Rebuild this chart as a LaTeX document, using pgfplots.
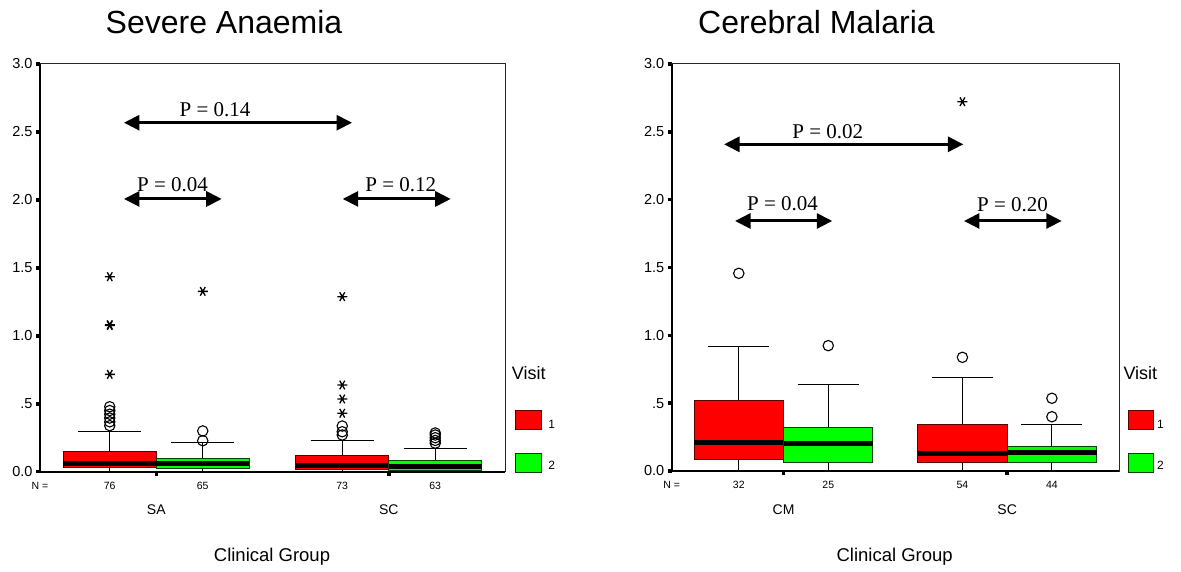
\documentclass[border=0pt]{standalone}
\usepackage{pgfplots}
\pgfplotsset{compat=1.18}
\usepgfplotslibrary{statistics}
\usetikzlibrary{arrows.meta}
\usepackage{fontspec}
\setmainfont{Liberation Sans}
\newfontfamily\pserif{Liberation Serif}
\definecolor{boxred}{RGB}{255,0,0}
\definecolor{boxgreen}{RGB}{0,255,0}
\definecolor{edgered}{RGB}{90,0,0}
\definecolor{edgegreen}{RGB}{0,70,0}
\pgfplotsset{
  panel/.style={
    scale only axis, clip=false,
    xmin=0.25, xmax=5.25, ymin=0, ymax=3,
    axis line style={line width=1pt, black!85},
    ytick={0,0.5,1,1.5,2,2.5,3},
    yticklabels={0.0,.5,1.0,1.5,2.0,2.5,3.0},
    xtick={1.5,4}, xticklabels={},
    xtick pos=bottom, ytick pos=left,
    tick align=outside, major tick length=4pt,
    every tick/.style={black, line width=3.5pt},
    tick label style={font=\fontsize{14.5}{16}\selectfont},
    /pgf/number format/assume math mode=true,
    boxplot/draw direction=y,
  },
  redbox/.style={draw=black, line width=1pt, forget plot,
    boxplot/draw direction=y,
    boxplot/every box/.style={draw=edgered, fill=boxred, line width=1pt},
    boxplot/every median/.style={draw=black, line width=5pt}},
  greenbox/.style={draw=black, line width=1pt, forget plot,
    boxplot/draw direction=y,
    boxplot/every box/.style={draw=edgegreen, fill=boxgreen, line width=1pt},
    boxplot/every median/.style={draw=black, line width=5pt}},
  circ/.style={only marks, mark=o, mark size=5.2pt, black, mark options={line width=1.1pt, fill=white}},
  star/.style={only marks, mark=asterisk, mark size=5pt, black, mark options={line width=1.3pt, rotate=90}},
}
\tikzset{
  pval/.style={line width=3pt, {Triangle[length=15.5pt,width=15pt]}-{Triangle[length=15.5pt,width=15pt]}},
  ptext/.style={anchor=base, font=\pserif\fontsize{21}{24}\selectfont},
  lbframe/.style={line width=2pt, black},
}
\begin{document}
\begin{tikzpicture}[x=1pt,y=1pt]
\path[use as bounding box] (0,0) rectangle (1181,571);

% ---------------- Left panel: Severe Anaemia ----------------
\begin{axis}[panel, at={(40pt,99.3pt)}, anchor=south west, width=465pt, height=407.7pt]
\addplot[redbox, boxplot prepared={draw position=1, lower whisker=0, lower quartile=0.032, median=0.062, upper quartile=0.15, upper whisker=0.294, box extend=1, whisker extend=0.68}] coordinates {};
\addplot[greenbox, boxplot prepared={draw position=2, lower whisker=0, lower quartile=0.025, median=0.059, upper quartile=0.096, upper whisker=0.213, box extend=1, whisker extend=0.68}] coordinates {};
\addplot[redbox, boxplot prepared={draw position=3.5, lower whisker=0, lower quartile=0.015, median=0.045, upper quartile=0.118, upper whisker=0.23, box extend=1, whisker extend=0.68}] coordinates {};
\addplot[greenbox, boxplot prepared={draw position=4.5, lower whisker=0, lower quartile=0.01, median=0.035, upper quartile=0.086, upper whisker=0.169, box extend=1, whisker extend=0.68}] coordinates {};
\addplot[circ] coordinates {(1,0.339) (1,0.367) (1,0.395) (1,0.423) (1,0.45) (1,0.478)
  (2,0.228) (2,0.30)
  (3.5,0.27) (3.5,0.294) (3.5,0.336)
  (4.5,0.21) (4.5,0.23) (4.5,0.25) (4.5,0.27) (4.5,0.285)};
\addplot[star] coordinates {(1,0.716) (1,1.076) (1,1.082) (1,1.435) (2,1.327)
  (3.5,0.43) (3.5,0.535) (3.5,0.638) (3.5,1.288)};
\draw[lbframe] (rel axis cs:0,1) -- (rel axis cs:0,0) -- (rel axis cs:1,0);
\draw[pval] (axis cs:1.153,2.568) -- (axis cs:3.605,2.568);
\node[ptext, yshift=6.7pt] at (axis cs:2.132,2.568) {P = 0.14};
\draw[pval] (axis cs:1.153,2.007) -- (axis cs:2.204,2.007);
\node[ptext, yshift=7pt] at (axis cs:1.675,2.007) {P = 0.04};
\draw[pval] (axis cs:3.505,2.007) -- (axis cs:4.666,2.007);
\node[ptext, yshift=7pt] at (axis cs:4.13,2.007) {P = 0.12};
\node[font=\fontsize{10.5}{12}\selectfont, yshift=-14pt] at (rel axis cs:0,0) {N =};
\node[font=\fontsize{10.5}{12}\selectfont, yshift=-14pt] at (axis cs:1,0) {76};
\node[font=\fontsize{10.5}{12}\selectfont, yshift=-14pt] at (axis cs:2,0) {65};
\node[font=\fontsize{10.5}{12}\selectfont, yshift=-14pt] at (axis cs:3.5,0) {73};
\node[font=\fontsize{10.5}{12}\selectfont, yshift=-14pt] at (axis cs:4.5,0) {63};
\node[font=\fontsize{14}{16}\selectfont, yshift=-38.3pt] at (axis cs:1.5,0) {SA};
\node[font=\fontsize{14}{16}\selectfont, yshift=-38.3pt] at (axis cs:4,0) {SC};
\end{axis}

% ---------------- Right panel: Cerebral Malaria ----------------
\begin{axis}[panel, at={(671.7pt,100pt)}, anchor=south west, width=447.3pt, height=407pt]
\addplot[redbox, boxplot prepared={draw position=1, lower whisker=0.007, lower quartile=0.088, median=0.209, upper quartile=0.518, upper whisker=0.916, box extend=1, whisker extend=0.68}] coordinates {};
\addplot[greenbox, boxplot prepared={draw position=2, lower whisker=0.007, lower quartile=0.061, median=0.201, upper quartile=0.319, upper whisker=0.634, box extend=1, whisker extend=0.68}] coordinates {};
\addplot[redbox, boxplot prepared={draw position=3.5, lower whisker=0.007, lower quartile=0.059, median=0.128, upper quartile=0.344, upper whisker=0.688, box extend=1, whisker extend=0.68}] coordinates {};
\addplot[greenbox, boxplot prepared={draw position=4.5, lower whisker=0.007, lower quartile=0.061, median=0.14, upper quartile=0.184, upper whisker=0.344, box extend=1, whisker extend=0.68}] coordinates {};
\addplot[circ] coordinates {(1,1.457) (2,0.924) (3.5,0.838) (4.5,0.40) (4.5,0.536)};
\addplot[star] coordinates {(3.5,2.722)};
\draw[lbframe] (rel axis cs:0,1) -- (rel axis cs:0,0) -- (rel axis cs:1,0);
\draw[pval] (axis cs:0.835,2.408) -- (axis cs:3.51,2.408);
\node[ptext, yshift=6pt] at (axis cs:1.995,2.408) {P = 0.02};
\draw[pval] (axis cs:0.958,1.843) -- (axis cs:2.045,1.843);
\node[ptext, yshift=10pt] at (axis cs:1.489,1.843) {P = 0.04};
\draw[pval] (axis cs:3.517,1.843) -- (axis cs:4.61,1.843);
\node[ptext, yshift=9.3pt] at (axis cs:4.06,1.843) {P = 0.20};
\node[font=\fontsize{10.5}{12}\selectfont, yshift=-14pt] at (rel axis cs:0,0) {N =};
\node[font=\fontsize{10.5}{12}\selectfont, yshift=-14pt] at (axis cs:1,0) {32};
\node[font=\fontsize{10.5}{12}\selectfont, yshift=-14pt] at (axis cs:2,0) {25};
\node[font=\fontsize{10.5}{12}\selectfont, yshift=-14pt] at (axis cs:3.5,0) {54};
\node[font=\fontsize{10.5}{12}\selectfont, yshift=-14pt] at (axis cs:4.5,0) {44};
\node[font=\fontsize{14}{16}\selectfont, yshift=-38.3pt] at (axis cs:1.5,0) {CM};
\node[font=\fontsize{14}{16}\selectfont, yshift=-38.3pt] at (axis cs:4,0) {SC};
\end{axis}

% ---------------- Titles, axis titles, legends ----------------
\node[anchor=base, font=\fontsize{32}{36}\selectfont] at (224,537) {Severe Anaemia};
\node[anchor=base, font=\fontsize{32}{36}\selectfont] at (816.5,537) {Cerebral Malaria};
\node[font=\fontsize{18.5}{21}\selectfont] at (272,14.3) {Clinical Group};
\node[font=\fontsize{18.5}{21}\selectfont] at (894.7,14.3) {Clinical Group};

\node[anchor=base west, inner sep=0pt, font=\fontsize{18}{20}\selectfont] at (511.7,191) {Visit};
\draw[edgered, line width=1pt, fill=boxred] (515.7,141.7) rectangle (541,160.3);
\draw[edgegreen, line width=1pt, fill=boxgreen] (515.7,99) rectangle (541,117.7);
\node[font=\fontsize{12}{14}\selectfont] at (551.7,147) {1};
\node[font=\fontsize{12}{14}\selectfont] at (551.7,106) {2};

\node[anchor=base west, inner sep=0pt, font=\fontsize{18}{20}\selectfont] at (1123.3,191) {Visit};
\draw[edgered, line width=1pt, fill=boxred] (1128.3,141.7) rectangle (1153.3,160.3);
\draw[edgegreen, line width=1pt, fill=boxgreen] (1128.3,99) rectangle (1153.3,117.7);
\node[font=\fontsize{12}{14}\selectfont] at (1160.5,147) {1};
\node[font=\fontsize{12}{14}\selectfont] at (1160.5,106) {2};
\end{tikzpicture}
\end{document}
